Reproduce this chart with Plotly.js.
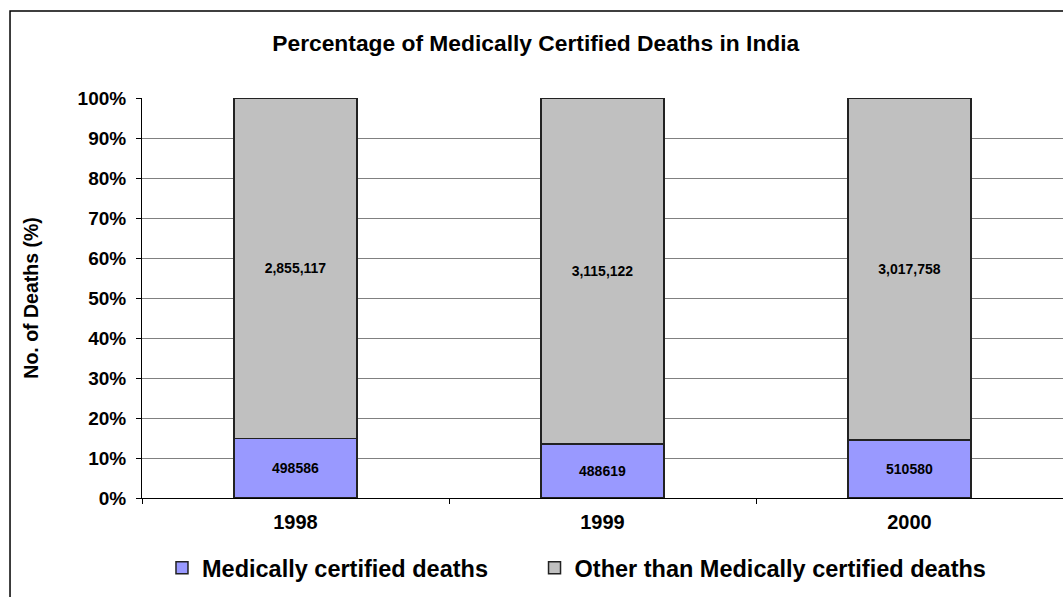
<!DOCTYPE html>
<html>
<head>
<meta charset="utf-8">
<script src="https://cdn.plot.ly/plotly-3.0.1.min.js"></script>
<style>html,body{margin:0;padding:0;background:#fff}#chart{width:1063px;height:597px}</style>
</head>
<body>
<div id="chart"></div>
<script>
const years = ['1998', '1999', '2000'];
const certified = [498586, 488619, 510580];
const other = [2855117, 3115122, 3017758];
const seriesNames = ['Medically certified deaths', 'Other than Medically certified deaths'];

const FONT = 'Liberation Sans, Arial, sans-serif';

const traces = [
  {
    type: 'bar', name: seriesNames[0], x: years, y: certified,
    text: certified.map(v => String(v)),
    textposition: 'inside', insidetextanchor: 'middle', textangle: 0,
    textfont: {family: FONT, size: 14, color: '#000', weight: 'bold'},
    marker: {color: '#9999FF', line: {color: '#222', width: 1.5}},
    width: 0.4, hoverinfo: 'skip', legend: 'legend'
  },
  {
    type: 'bar', name: seriesNames[1], x: years, y: other,
    text: other.map(v => v.toLocaleString('en-US')),
    textposition: 'inside', insidetextanchor: 'middle', textangle: 0,
    textfont: {family: FONT, size: 14, color: '#000', weight: 'bold'},
    marker: {color: '#C0C0C0', line: {color: '#222', width: 1.5}},
    width: 0.4, hoverinfo: 'skip', legend: 'legend2'
  }
];

const legendFont = {family: FONT, size: 23.5, weight: 'bold', color: '#000'};

const layout = {
  width: 1063, height: 597,
  margin: {l: 142, r: 0, t: 98, b: 99},
  paper_bgcolor: '#fff', plot_bgcolor: '#fff',
  barmode: 'stack', barnorm: 'percent',
  font: {family: FONT, color: '#000'},
  title: {
    text: 'Percentage of Medically Certified Deaths in India',
    font: {family: FONT, size: 22.8, weight: 'bold', color: '#000'},
    x: 0.504, xanchor: 'center', xref: 'container',
    y: 0.928, yanchor: 'middle', yref: 'container'
  },
  xaxis: {
    type: 'category', range: [-0.5, 2.5],
    showgrid: false, showline: true, linecolor: '#000', linewidth: 1,
    ticks: 'outside', tickson: 'boundaries', ticklen: 5, tickcolor: '#000',
    ticklabelstandoff: 6,
    tickfont: {family: FONT, size: 20, weight: 'bold', color: '#000'},
    fixedrange: true
  },
  yaxis: {
    range: [0, 100], dtick: 10, ticksuffix: '%',
    showgrid: true, gridcolor: '#808080', gridwidth: 1,
    showline: true, linecolor: '#000', linewidth: 1,
    ticks: 'outside', ticklen: 5, tickcolor: '#000',
    ticklabelstandoff: 6,
    tickfont: {family: FONT, size: 19, weight: 'bold', color: '#000'},
    zeroline: false,
    title: {text: 'No. of Deaths (%)', font: {family: FONT, size: 19.5, weight: 'bold', color: '#000'}, standoff: 33},
    fixedrange: true
  },
  showlegend: true,
  legend: {
    orientation: 'h', x: 0.0217, xanchor: 'left', y: -0.175, yanchor: 'middle',
    font: legendFont, itemwidth: 30
  },
  legend2: {
    orientation: 'h', x: 0.4262, xanchor: 'left', y: -0.175, yanchor: 'middle',
    font: legendFont, itemwidth: 30
  },
  shapes: [{
    type: 'rect', xref: 'paper', yref: 'paper',
    x0: -0.1433, x1: 1.2, y0: -0.6, y1: 1.2175,
    line: {color: '#000', width: 1.5}, fillcolor: 'rgba(0,0,0,0)'
  }]
};

Plotly.newPlot('chart', traces, layout, {displayModeBar: false, staticPlot: true});
</script>
</body>
</html>
